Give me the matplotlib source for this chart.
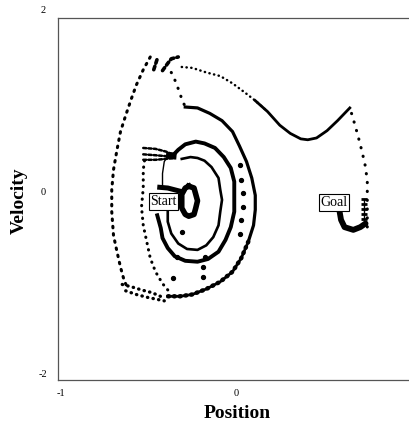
import matplotlib
matplotlib.use("Agg")
import matplotlib.pyplot as plt

plt.rcParams['font.family'] = ['Liberation Serif', 'DejaVu Serif']

# --- trajectory pieces (position, velocity) ---
ring_pos = [-0.27, -0.24, -0.23, -0.22, -0.23, -0.24, -0.27, -0.29, -0.31, -0.31, -0.31, -0.29, -0.27]
ring_vel = [0.07, 0.05, -0.02, -0.09, -0.17, -0.24, -0.26, -0.24, -0.17, -0.09, -0.02, 0.05, 0.07]

start_pos = [-0.45, -0.39, -0.31]
start_vel = [0.06, 0.05, 0.01]

lap1_pos = [-0.31, -0.26, -0.22, -0.18, -0.14, -0.10, -0.09, -0.08, -0.09, -0.10, -0.13, -0.17,
            -0.22, -0.28, -0.33, -0.37, -0.39, -0.39]
lap1_vel = [0.37, 0.39, 0.38, 0.35, 0.28, 0.16, 0.03, -0.08, -0.21, -0.36, -0.49, -0.58,
            -0.63, -0.62, -0.56, -0.45, -0.32, -0.21]

lap2_up_pos = [-0.42, -0.42, -0.41, -0.39]
lap2_up_vel = [0.06, 0.21, 0.34, 0.40]

lap2_pos = [-0.36, -0.33, -0.29, -0.23, -0.18, -0.12, -0.07, -0.03, -0.01, -0.01, -0.01, -0.03,
            -0.06, -0.10, -0.16, -0.22, -0.29, -0.35, -0.39, -0.42, -0.43, -0.45]
lap2_vel = [0.41, 0.47, 0.53, 0.56, 0.54, 0.49, 0.39, 0.27, 0.12, -0.05, -0.21, -0.38,
            -0.52, -0.65, -0.73, -0.76, -0.75, -0.70, -0.61, -0.50, -0.39, -0.25]

feather_pos = [-0.53, -0.46, -0.40, -0.35]
feather_vel_a = [0.49, 0.48, 0.45, 0.41]
feather_vel_b = [0.42, 0.41, 0.40, 0.39]
feather_vel_c = [0.36, 0.36, 0.37, 0.38]
wedge_pos = [-0.40, -0.34]
wedge_vel = [0.41, 0.40]

lap3_drop_pos = [-0.37, -0.35, -0.33, -0.31, -0.29]
lap3_drop_vel = [1.32, 1.24, 1.14, 1.03, 0.94]

lap3_pos = [-0.29, -0.22, -0.15, -0.08, -0.02, 0.02, 0.06, 0.09, 0.11, 0.11, 0.10, 0.07]
lap3_vel = [0.94, 0.93, 0.87, 0.79, 0.67, 0.51, 0.34, 0.16, -0.03, -0.19, -0.36, -0.54]

lap3_low_pos = [0.07, 0.03, -0.02, -0.09, -0.17, -0.25, -0.32, -0.39]
lap3_low_vel = [-0.54, -0.72, -0.87, -0.98, -1.06, -1.12, -1.14, -1.14]

lap3_left_pos = [-0.39, -0.42, -0.46, -0.49, -0.51, -0.53, -0.54, -0.53, -0.53, -0.52]
lap3_left_vel = [-1.07, -1.00, -0.87, -0.72, -0.54, -0.36, -0.16, 0.05, 0.25, 0.39]

outer_pos = [-0.49, -0.53, -0.57, -0.60, -0.63, -0.66, -0.68, -0.70, -0.71, -0.71, -0.70,
             -0.68, -0.66, -0.64, -0.62]
outer_vel = [1.49, 1.35, 1.18, 1.02, 0.85, 0.67, 0.47, 0.25, 0.03, -0.21, -0.47,
             -0.65, -0.82, -0.96, -1.05]

bottom_pos_a = [-0.65, -0.59, -0.54, -0.48, -0.42]
bottom_vel_a = [-1.01, -1.04, -1.07, -1.10, -1.15]
bottom_pos_b = [-0.63, -0.57, -0.51, -0.46, -0.41]
bottom_vel_b = [-1.08, -1.12, -1.15, -1.17, -1.19]

peak2_pos = [-0.47, -0.45]
peak2_vel = [1.35, 1.47]
peak3_pos = [-0.42, -0.39, -0.37, -0.33]
peak3_vel = [1.34, 1.42, 1.47, 1.49]

top_pos = [-0.31, -0.25, -0.17, -0.09, -0.02, 0.05, 0.11, 0.18, 0.25, 0.31, 0.37, 0.41,
           0.46, 0.52, 0.58, 0.65]
top_vel = [1.38, 1.37, 1.32, 1.28, 1.20, 1.10, 1.01, 0.89, 0.74, 0.65, 0.59, 0.58,
           0.60, 0.68, 0.79, 0.93]

descent_pos = [0.66, 0.68, 0.70, 0.72, 0.74, 0.75, 0.75, 0.75, 0.75]
descent_vel = [0.87, 0.74, 0.60, 0.45, 0.28, 0.12, -0.05, -0.21, -0.38]

goal_pos = [0.59, 0.60, 0.62, 0.67, 0.71, 0.74]
goal_vel = [-0.19, -0.30, -0.38, -0.41, -0.38, -0.34]

goal_tick_pos = [0.73, 0.73, 0.73, 0.73, 0.73, 0.73]
goal_tick_vel = [-0.07, -0.13, -0.18, -0.24, -0.29, -0.35]

sparse_pos = [0.02, 0.03, 0.04, 0.04, 0.03, 0.02, -0.31, -0.34, -0.36, -0.18, -0.19, -0.19]
sparse_vel = [0.30, 0.14, 0.00, -0.16, -0.30, -0.45, -0.43, -0.71, -0.94, -0.71, -0.82, -0.93]

x_ticks = [-1, 0]
y_ticks = [-2, 0, 2]

fig = plt.figure(figsize=(4.1, 4.28), dpi=100)
ax = fig.add_axes([0.1415, 0.1121, 0.8585, 0.8458])
ax.set_xlim(-1.017, 0.994)
ax.set_ylim(-2.06, 1.918)

k = 'black'
dots = dict(color=k, solid_capstyle='round', dash_capstyle='round')

# central ring and the pieces spiralling out of it
ax.plot(ring_pos, ring_vel, color=k, lw=4.0, solid_joinstyle='round')
ax.plot(start_pos, start_vel, color=k, lw=3.6, solid_capstyle='butt')
ax.plot(lap1_pos, lap1_vel, color=k, lw=1.9)
ax.plot(lap2_up_pos, lap2_up_vel, color=k, lw=1.0)
ax.plot(lap2_pos, lap2_vel, color=k, lw=2.8)
for fv in (feather_vel_a, feather_vel_b, feather_vel_c):
    ax.plot(feather_pos, fv, lw=1.8, linestyle=(0, (1.2, 0.9)), **dots)
ax.plot(wedge_pos, wedge_vel, color=k, lw=5.0, solid_capstyle='butt')

# third lap
ax.plot(lap3_drop_pos, lap3_drop_vel, lw=2.2, linestyle=(0, (0.1, 2.7)), **dots)
ax.plot(lap3_pos, lap3_vel, color=k, lw=2.3)
ax.plot(lap3_low_pos, lap3_low_vel, lw=2.0, color=k)
ax.plot(lap3_low_pos, lap3_low_vel, lw=3.2, linestyle=(0, (0.2, 1.1)), **dots)
ax.plot(lap3_left_pos, lap3_left_vel, lw=2.2, linestyle=(0, (0.1, 2.0)), **dots)

# outer lap and the run to the goal
ax.plot(outer_pos, outer_vel, lw=2.2, linestyle=(0, (0.5, 1.9)), **dots)
ax.plot(bottom_pos_a, bottom_vel_a, lw=2.4, linestyle=(0, (0.1, 1.6)), **dots)
ax.plot(bottom_pos_b, bottom_vel_b, lw=2.4, linestyle=(0, (0.1, 1.6)), **dots)
ax.plot(peak2_pos, peak2_vel, lw=2.6, linestyle=(0, (1.0, 0.9)), **dots)
ax.plot(peak3_pos, peak3_vel, lw=2.6, linestyle=(0, (1.0, 0.9)), **dots)
ax.plot(top_pos[:8], top_vel[:8], lw=1.8, linestyle=(0, (0.1, 1.8)), **dots)
ax.plot(top_pos[6:], top_vel[6:], color=k, lw=2.0)
ax.plot(descent_pos, descent_vel, lw=2.2, linestyle=(0, (0.1, 2.8)), **dots)
ax.plot(goal_pos, goal_vel, color=k, lw=4.2, solid_capstyle='round')
ax.plot(goal_tick_pos, goal_tick_vel, color=k, lw=1.0)
ax.plot(goal_tick_pos, goal_tick_vel, linestyle='none', marker='_', ms=5, mew=2.0, color=k)
ax.plot(sparse_pos, sparse_vel, linestyle='none', marker='o', ms=2.8, color=k)

box = dict(boxstyle='square,pad=0.12', fc='white', ec='black', lw=0.8)
ax.text(-0.414, -0.10, 'Start', ha='center', va='center', fontsize=10, bbox=box, zorder=5)
ax.text(0.56, -0.11, 'Goal', ha='center', va='center', fontsize=10, bbox=box, zorder=5)

# frame: right edge runs off the page
ax.spines['right'].set_visible(False)
for s in ('top', 'left', 'bottom'):
    ax.spines[s].set_color('#555555')
    ax.spines[s].set_linewidth(0.9)
ax.set_xticks([])
ax.set_yticks([])

for t in x_ticks:
    ax.text(t, -0.036, str(t), transform=ax.get_xaxis_transform(),
            ha='center', va='center', fontsize=7.5)
for t in y_ticks:
    ax.text(-0.043, t, str(t), transform=ax.get_yaxis_transform(),
            ha='center', va='center', fontsize=7.5)

fig.text(237 / 410, 1 - 413 / 428, 'Position', ha='center', va='center',
         fontsize=14, fontweight='bold')
fig.text(19 / 410, 1 - 201 / 428, 'Velocity', ha='center', va='center',
         fontsize=14, fontweight='bold', rotation=90)

fig.savefig('out.png', dpi=100)
